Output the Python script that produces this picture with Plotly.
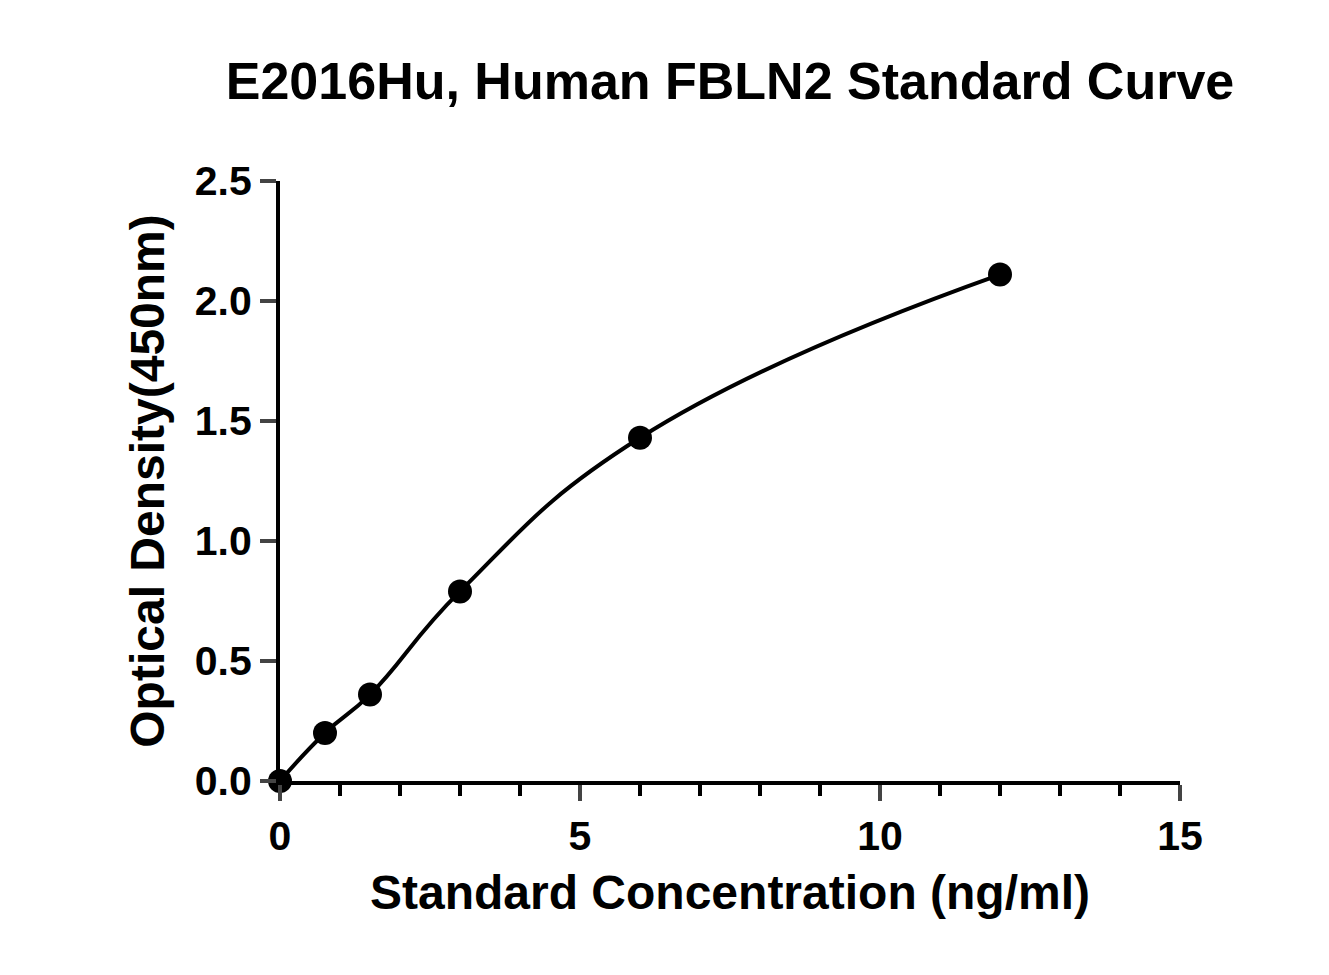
import plotly.graph_objects as go

conc = [0, 0.75, 1.5, 3, 6, 12]
od = [0.0, 0.2, 0.36, 0.79, 1.43, 2.11]

font_name = "Liberation Sans"

fig = go.Figure()
fig.add_trace(go.Scatter(x=conc, y=od, mode="lines+markers", line=dict(color="black", width=4, shape="spline", smoothing=1.3),
                         marker=dict(color="black", size=24), cliponaxis=False, showlegend=False))

fig.update_layout(
    width=1329, height=975,
    plot_bgcolor="white", paper_bgcolor="white",
    margin=dict(l=272, r=157, t=173, b=202),
    font=dict(family=font_name, color="black"),
    title=dict(text="<b>E2016Hu, Human FBLN2 Standard Curve</b>", x=0.5, xref="paper", y=0.925, yanchor="middle",
               font=dict(size=52, family=font_name)),
)
fig.update_xaxes(range=[0, 15], tickvals=[0, 5, 10, 15], ticktext=["<b>0</b>", "<b>5</b>", "<b>10</b>", "<b>15</b>"],
                 ticks="outside", ticklen=16, tickwidth=4,
                 showline=True, linewidth=4, linecolor="black", showgrid=False, zeroline=False,
                 tickfont=dict(size=41, family=font_name),
                 minor=dict(tickvals=[1, 2, 3, 4, 6, 7, 8, 9, 11, 12, 13, 14], ticks="outside", ticklen=11, tickwidth=3.5, tickcolor="black"),
                 title=dict(text="<b>Standard Concentration (ng/ml)</b>", font=dict(size=48), standoff=18))
fig.update_yaxes(range=[0, 2.5], tickvals=[0, 0.5, 1, 1.5, 2, 2.5], ticktext=["<b>0.0</b>", "<b>0.5</b>", "<b>1.0</b>", "<b>1.5</b>", "<b>2.0</b>", "<b>2.5</b>"],
                 ticks="outside", ticklen=16, tickwidth=4,
                 showline=True, linewidth=4, linecolor="black", showgrid=False, zeroline=False,
                 tickfont=dict(size=41, family=font_name),
                 title=dict(text="<b>Optical Density(450nm)</b>", font=dict(size=48), standoff=16))

fig.write_html("out.html")
